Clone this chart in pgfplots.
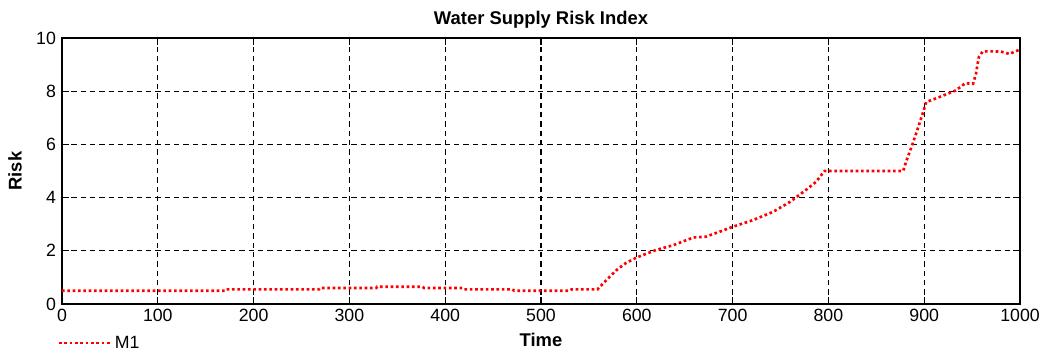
\documentclass[border=0pt]{standalone}
\usepackage{pgfplots}
\pgfplotsset{compat=1.18}
\usepackage{fontspec}
\setmainfont{Liberation Sans}
\begin{document}
\begin{tikzpicture}
\begin{axis}[
  scale only axis=true,
  width=718.5pt, height=199.5pt,
  xmin=0, xmax=1000, ymin=0, ymax=10,
  xtick={0,100,...,1000}, ytick={0,2,...,10},
  grid=major,
  major grid style={black, line width=0.8pt, dash pattern=on 4pt off 3pt},
  axis line style={black, line width=0.9pt},
  tick style={black, line width=0.8pt},
  tick align=inside,
  major tick length=5pt,
  /pgf/number format/assume math mode=true,
  /pgf/number format/1000 sep={},
  ticklabel style={font=\fontsize{13.3}{15}\selectfont},
  yticklabel style={xshift=-1pt},
  title={\bfseries Water Supply Risk Index},
  title style={font=\fontsize{13.8}{15}\selectfont, yshift=-2pt},
  xlabel={\bfseries Time},
  ylabel={\bfseries Risk},
  xlabel style={font=\fontsize{13.8}{15}\selectfont, yshift=-2pt},
  ylabel style={font=\fontsize{13.8}{15}\selectfont, yshift=4pt},
  legend style={draw=none, fill=none, at={(-0.009,-0.147)}, anchor=west, font=\fontsize{13.3}{15}\selectfont},
  legend image code/.code={\draw[#1] (0pt,0pt) -- (39pt,0pt);},
  legend cell align=left,
]
\addplot[red, line width=2pt, dash pattern=on 2pt off 2pt] coordinates {
(0,0.5)(170,0.5)(171,0.55)(268,0.55)(269,0.6)(328,0.6)(329,0.65)(376,0.65)(378,0.6)(418,0.6)(420,0.55)(470,0.55)(472,0.5)(530,0.5)(532,0.55)(559,0.55)(565,0.78)(579,1.28)(589,1.55)(600,1.75)(620,2.03)(638,2.21)(659,2.5)(672,2.53)(686,2.71)(700,2.9)(721,3.15)(742,3.46)(760,3.84)(777,4.3)(787,4.59)(796,5.0)(878,5.0)(881,5.34)(888,6.03)(895,6.78)(900,7.34)(902,7.59)(916,7.78)(933,8.03)(943,8.3)(951,8.28)(954,8.65)(957,9.28)(961,9.49)(966,9.5)(980,9.49)(989,9.4)(1000,9.57)
};
\addlegendentry{M1}
\end{axis}
\pgfresetboundingbox
\path[use as bounding box] (-46.5pt,-40.5pt) rectangle (738.75pt,228pt);
\end{tikzpicture}
\end{document}
